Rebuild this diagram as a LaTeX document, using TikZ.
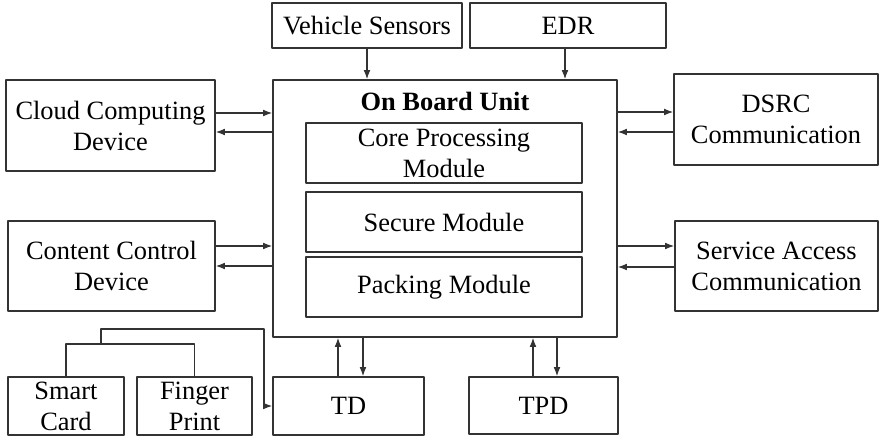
\documentclass[tikz,border=0pt]{standalone}
\usepackage{fontspec}
\setmainfont{Liberation Serif}
\usetikzlibrary{arrows.meta}
\begin{document}
\begin{tikzpicture}[x=0.5pt,y=-0.5pt,>={Latex[length=4.6pt,width=3.4pt]},line cap=round,line join=round,
	box/.style={draw=black!80,line width=0.7pt,inner sep=0pt,align=center,font=\fontsize{13.2}{15.5}\selectfont},
	link/.style={->,draw=black!80,line width=0.6pt},
	wire/.style={draw=black!80,line width=0.6pt}]
	\useasboundingbox (0,0) rectangle (880,438);
	% top row
	\node[box,minimum width=95pt,minimum height=22.5pt] (vs) at (367,25.5) {Vehicle Sensors};
	\node[box,minimum width=98pt,minimum height=22.5pt] (edr) at (568,25.5) {EDR};
	% on board unit
	\node[box,minimum width=172pt,minimum height=128.5pt] (obu) at (445,208.5) {};
	\node[font=\fontsize{13.2}{15.5}\selectfont\bfseries] (title) at (445,101) {On Board Unit};
	\node[box,minimum width=138pt,minimum height=30pt] (core) at (444,153) {Core Processing\\Module};
	\node[box,minimum width=138pt,minimum height=30pt] (secure) at (444,222) {Secure Module};
	\node[box,minimum width=138pt,minimum height=30pt] (packing) at (444,287) {Packing Module};
	% left side
	\node[box,minimum width=104.5pt,minimum height=45.5pt] (cloud) at (110.5,125.5) {Cloud Computing\\Device};
	\node[box,minimum width=103.5pt,minimum height=45pt] (content) at (111.5,266) {Content Control\\Device};
	% right side
	\node[box,minimum width=102pt,minimum height=45.5pt] (dsrc) at (776,119.5) {DSRC\\Communication};
	\node[box,minimum width=101.5pt,minimum height=45pt] (sac) at (776.5,266) {Service Access\\Communication};
	% bottom row
	\node[box,minimum width=75.5pt,minimum height=29pt] (td) at (348.5,406) {TD};
	\node[box,minimum width=74.5pt,minimum height=28.5pt] (tpd) at (543.5,405.5) {TPD};
	\node[box,minimum width=58pt,minimum height=29pt] (smart) at (66,406) {Smart\\Card};
	\node[box,minimum width=57.5pt,minimum height=29pt] (finger) at (194.5,406) {Finger\\Print};
	\coordinate (join) at (101,344);
	\coordinate (bend) at (264,329);
	% connectors
	\draw[link] (vs.south) -- (vs.south |- obu.north);
	\draw[link] (edr.south -| 565,0) -- (obu.north -| 565,0);
	\draw[link] (cloud.east |- 0,113) -- (obu.west |- 0,113);
	\draw[link] (obu.west |- 0,132) -- (cloud.east |- 0,132);
	\draw[link] (content.east |- 0,246) -- (obu.west |- 0,246);
	\draw[link] (obu.west |- 0,266) -- (content.east |- 0,266);
	\draw[link] (obu.east |- 0,112) -- (dsrc.west |- 0,112);
	\draw[link] (dsrc.west |- 0,132) -- (obu.east |- 0,132);
	\draw[link] (obu.east |- 0,246) -- (sac.west |- 0,246);
	\draw[link] (sac.west |- 0,267) -- (obu.east |- 0,267);
	\draw[link] (td.north -| 338,0) -- (obu.south -| 338,0);
	\draw[link] (obu.south -| 363,0) -- (td.north -| 363,0);
	\draw[link] (tpd.north -| 533,0) -- (obu.south -| 533,0);
	\draw[link] (obu.south -| 557,0) -- (tpd.north -| 557,0);
	\draw[wire] (smart.north) |- (join) -| (finger.north);
	\draw[link] (join) |- (bend) |- (td.west);
\end{tikzpicture}
\end{document}
